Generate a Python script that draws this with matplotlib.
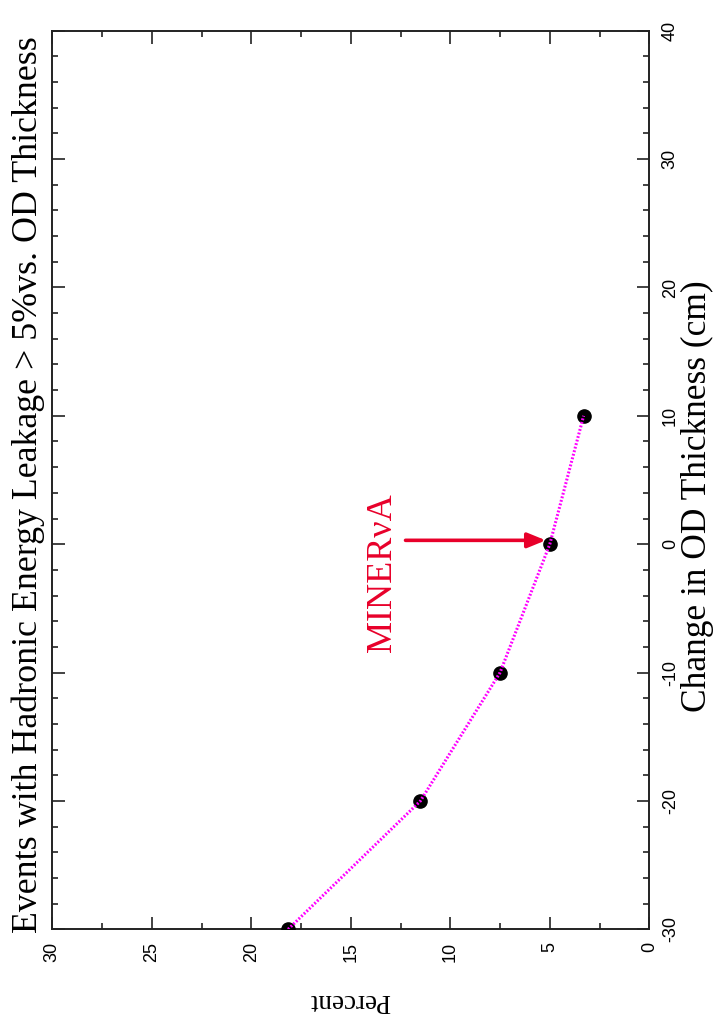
"""Hadronic energy leakage vs. OD thickness, drawn rotated like the original page."""

import matplotlib

matplotlib.use("Agg")
import matplotlib.pyplot as plt
from matplotlib.ticker import MultipleLocator

plt.rcParams["axes.unicode_minus"] = False

# data
thickness_change = [-30, -20, -10, 0, 10]  # cm
percent_leak = [18.15, 11.5, 7.5, 5.0, 3.3]

percent_ticks = [30, 25, 20, 15, 10, 5, 0]
thickness_ticks = [-30, -20, -10, 0, 10, 20, 30, 40]

title = "Events with Hadronic Energy Leakage > 5%vs. OD Thickness"
xlabel = "Change in OD Thickness (cm)"
ylabel = "Percent"
note = "MINER\u03bdA"
note_xy = (13.4, -2.2)
arrow_from = (12.25, 0.3)
arrow_to = (5.2, 0.3)

SERIF = ["Liberation Serif", "DejaVu Serif"]
SANS = ["Liberation Sans", "DejaVu Sans"]
RED = "#e8002a"

W, H = 715, 1029
fig = plt.figure(figsize=(W / 100, H / 100), dpi=100)
ax = fig.add_axes([52.3 / W, 1 - 929.3 / H, (649.3 - 52.3) / W, (929.3 - 30.7) / H])

ax.plot(percent_leak, thickness_change, ls="none", marker="o", ms=9.5,
        mfc="black", mec="black", zorder=3)
ax.plot(percent_leak, thickness_change, color="#ff00ff", ls=(0, (0.6, 0.6)),
        lw=2.2, zorder=4)

ax.set_xlim(30, 0)
ax.set_ylim(-30, 40)
ax.set_xticks(percent_ticks)
ax.set_yticks(thickness_ticks)
ax.xaxis.set_minor_locator(MultipleLocator(2.5))
ax.yaxis.set_minor_locator(MultipleLocator(2))

ax.tick_params(which="both", direction="in", top=True, right=True,
               left=True, bottom=True, labelleft=False, labelright=True,
               width=1.2, colors="#222222")
ax.tick_params(which="major", length=9)
ax.tick_params(which="minor", length=4.5)
ax.tick_params(axis="x", pad=9)
ax.tick_params(axis="y", pad=9)
for lab in ax.get_xticklabels() + ax.get_yticklabels():
    lab.set_rotation(90)
    lab.set_family(SANS)
    lab.set_fontsize(13)
    lab.set_color("black")
for lab in ax.get_yticklabels():
    lab.set_verticalalignment("center")
for sp in ax.spines.values():
    sp.set_linewidth(1.4)
    sp.set_color("#222222")

ax.annotate("", xy=arrow_to, xytext=arrow_from,
            arrowprops=dict(arrowstyle="-|>,head_length=1.1,head_width=0.45",
                            color=RED, lw=2.6, shrinkA=0, shrinkB=0))
ax.text(*note_xy, note, rotation=90, ha="center", va="center",
        color=RED, family=SERIF, fontsize=26)

fig.text(28 / W, 1 - 485 / H, title, rotation=90, ha="center", va="center",
         family=SERIF, fontsize=25.8)
fig.text(697 / W, 1 - 496 / H, xlabel, rotation=90, ha="center", va="center",
         family=SERIF, fontsize=25.5)
fig.text(350 / W, 1 - 1000 / H, ylabel, rotation=180, ha="center", va="center",
         family=SERIF, fontsize=19.5)

fig.savefig("out.png", dpi=100)
